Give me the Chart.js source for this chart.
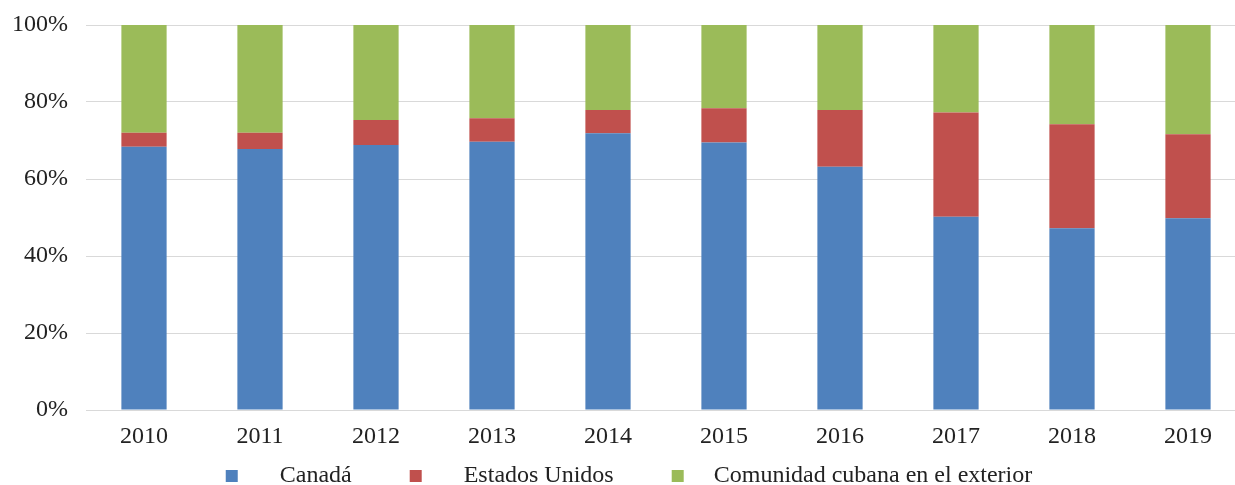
<!DOCTYPE html>
<html>
<head>
<meta charset="utf-8">
<script src="https://cdn.jsdelivr.net/npm/chart.js@4/dist/chart.umd.min.js"></script>
<style>
    html, body { margin: 0; padding: 0; background: #fff; overflow: hidden; }
    canvas { display: block; }
</style>
</head>
<body>
<canvas id="shareChart" width="1250" height="485"></canvas>
<script>
const years = ['2010', '2011', '2012', '2013', '2014', '2015', '2016', '2017', '2018', '2019'];
const canada = [68.4, 67.8, 68.8, 69.7, 71.9, 69.5, 63.2, 50.2, 47.2, 49.8];
const estadosUnidos = [3.6, 4.2, 6.5, 6.1, 6.0, 8.9, 14.7, 27.1, 27.0, 21.8];
const comunidad = [28.0, 28.0, 24.7, 24.2, 22.1, 21.6, 22.1, 22.7, 25.8, 28.4];
const seriesNames = ['Canadá', 'Estados Unidos', 'Comunidad cubana en el exterior'];
const yTicks = [0, 20, 40, 60, 80, 100];

document.addEventListener('DOMContentLoaded', function() {
    createShareChart();
});

function createShareChart() {
    const ctx = document.getElementById('shareChart').getContext('2d');
    const font = { family: '"Liberation Serif", "Times New Roman", serif', size: 24 };

    new Chart(ctx, {
        type: 'bar',
        data: {
            labels: years,
            datasets: [{
                label: seriesNames[0],
                data: canada,
                backgroundColor: '#4f81bd'
            }, {
                label: seriesNames[1],
                data: estadosUnidos,
                backgroundColor: '#c0504d'
            }, {
                label: seriesNames[2],
                data: comunidad,
                backgroundColor: '#9bbb59'
            }]
        },
        options: {
            responsive: false,
            animation: false,
            barPercentage: 0.39,
            categoryPercentage: 1,
            layout: {
                padding: { top: 25, left: 12, right: 4, bottom: 0 }
            },
            plugins: {
                tooltip: { enabled: false },
                legend: {
                    position: 'bottom',
                    maxHeight: 31,
                    labels: {
                        color: '#222',
                        font: font,
                        boxWidth: 12,
                        boxHeight: 12,
                        padding: 10,
                        // spaces push the text away from the marker, like the original
                        generateLabels: function(chart) {
                            const lead = ['     ', '     ', '   '];
                            const trail = ['        ', '        ', ''];
                            return chart.data.datasets.map(function(ds, i) {
                                return {
                                    text: lead[i] + ds.label + trail[i],
                                    fillStyle: ds.backgroundColor,
                                    strokeStyle: ds.backgroundColor,
                                    lineWidth: 0,
                                    fontColor: '#222',
                                    datasetIndex: i,
                                    hidden: false
                                };
                            });
                        }
                    }
                }
            },
            scales: {
                x: {
                    stacked: true,
                    grid: { display: false, drawTicks: false },
                    border: { display: false },
                    ticks: { color: '#222', font: font, padding: 12, maxRotation: 0 },
                    afterFit: function(scale) { scale.height = 44; }
                },
                y: {
                    stacked: true,
                    min: 0,
                    max: 100,
                    grid: {
                        color: '#d9d9d9',
                        lineWidth: 1,
                        drawTicks: true,
                        tickLength: 18,
                        tickColor: 'rgba(0, 0, 0, 0)'
                    },
                    border: { display: false },
                    afterBuildTicks: function(scale) {
                        scale.ticks = yTicks.map(function(v) { return { value: v }; });
                    },
                    ticks: {
                        color: '#222',
                        font: font,
                        padding: 0,
                        callback: function(v) { return v + '%'; }
                    },
                    afterFit: function(scale) { scale.width = 74; }
                }
            }
        }
    });
}
</script>
</body>
</html>
